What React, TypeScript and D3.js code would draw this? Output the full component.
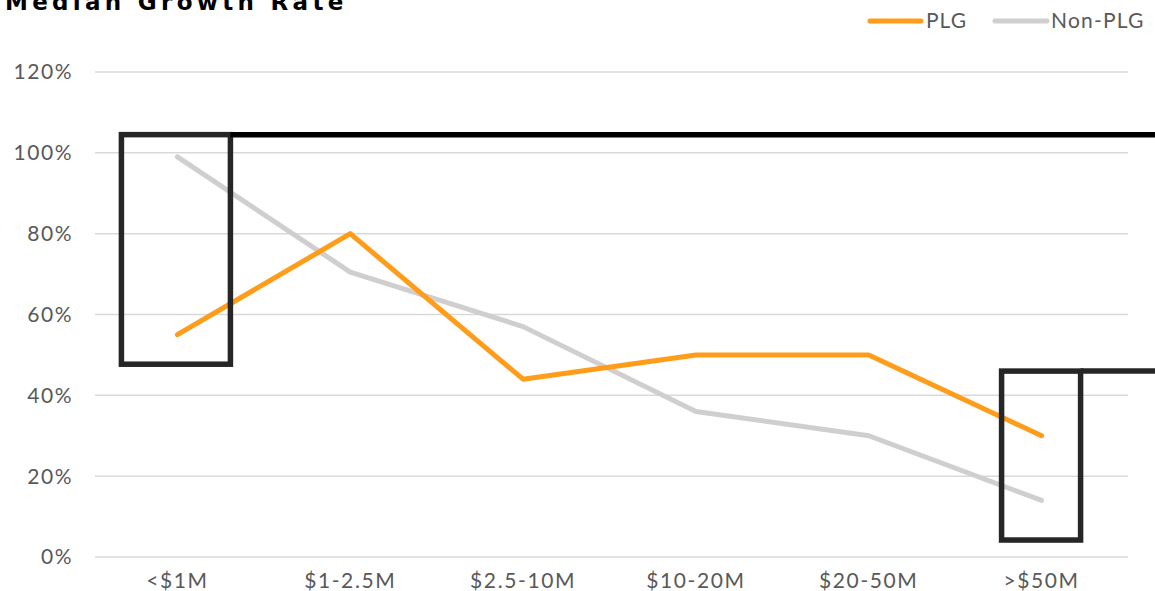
import React from 'react';
import * as d3 from 'd3';

const categories = ['<$1M', '$1-2.5M', '$2.5-10M', '$10-20M', '$20-50M', '>$50M'];
const plg = [55, 80, 44, 50, 50, 30];
const nonPlg = [99, 70.5, 57, 36, 30, 14];
const yTicks = [0, 20, 40, 60, 80, 100, 120];

const W = 1155;
const H = 591;
const margin = { top: 72, right: 27, bottom: 34, left: 91 };

const ORANGE = '#FF9C1A';
const GREY = '#D0CECE';
const TEXT = '#595959';
const FONT = 'Lato, "Noto Sans", sans-serif';

export default function App() {
  const x = d3.scaleBand<string>()
    .domain(categories)
    .range([margin.left, W - margin.right]);
  const y = d3.scaleLinear()
    .domain([0, 120])
    .range([H - margin.bottom, margin.top]);
  const cx = (c: string) => (x(c) as number) + x.bandwidth() / 2;

  const line = d3.line<number>()
    .x((_, i) => cx(categories[i]))
    .y(d => y(d));

  // highlight boxes around first and last category
  const first = cx(categories[0]);
  const last = cx(categories[categories.length - 1]);
  const box1 = { x0: first - 56, x1: first + 53, y0: y(104.5), y1: y(47.7) };
  const box2 = { x0: last - 40, x1: last + 39, y0: y(46), y1: y(4.2) };

  return (
    <svg width={W} height={H} style={{ position: 'absolute', left: 0, top: 0, background: '#fff' }}>
      <text x={5} y={10} fontFamily='"DejaVu Sans", sans-serif' fontWeight="bold" fontSize={23}
        letterSpacing={4.3} fill="#000">Median Growth Rate</text>

      {yTicks.map(t => (
        <g key={t}>
          <line x1={margin.left + 4} x2={W - margin.right} y1={y(t)} y2={y(t)}
            stroke="#D9D9D9" strokeWidth={1.5} />
          <text x={73} y={y(t)} dy="0.35em" textAnchor="end" fontFamily={FONT}
            fontSize={21} fill={TEXT} letterSpacing={1.5}>{t}%</text>
        </g>
      ))}

      {categories.map(c => (
        <text key={c} x={cx(c)} y={588} textAnchor="middle" fontFamily={FONT}
          fontSize={21} fill={TEXT} letterSpacing={1.6}>{c}</text>
      ))}

      <path d={line(nonPlg) || ''} fill="none" stroke={GREY} strokeWidth={5} strokeLinecap="round" strokeLinejoin="round" />
      <path d={line(plg) || ''} fill="none" stroke={ORANGE} strokeWidth={5} strokeLinecap="round" strokeLinejoin="round" />

      <rect x={box1.x0} y={box1.y0} width={box1.x1 - box1.x0} height={box1.y1 - box1.y0}
        fill="none" stroke="#262626" strokeWidth={5.5} />
      <line x1={box1.x1} x2={W} y1={box1.y0} y2={box1.y0} stroke="#000" strokeWidth={5.5} />
      <rect x={box2.x0} y={box2.y0} width={box2.x1 - box2.x0} height={box2.y1 - box2.y0}
        fill="none" stroke="#262626" strokeWidth={5.5} />
      <line x1={box2.x1} x2={W} y1={box2.y0} y2={box2.y0} stroke="#262626" strokeWidth={5.5} />

      <g>
        <line x1={870} x2={921} y1={21} y2={21} stroke={ORANGE} strokeWidth={5} strokeLinecap="round" />
        <text x={926} y={28} fontFamily={FONT} fontSize={21} fill={TEXT} letterSpacing={1}>PLG</text>
        <line x1={995} x2={1047} y1={21} y2={21} stroke={GREY} strokeWidth={5} strokeLinecap="round" />
        <text x={1051} y={28} fontFamily={FONT} fontSize={21} fill={TEXT} letterSpacing={1.2}>Non-PLG</text>
      </g>
    </svg>
  );
}
